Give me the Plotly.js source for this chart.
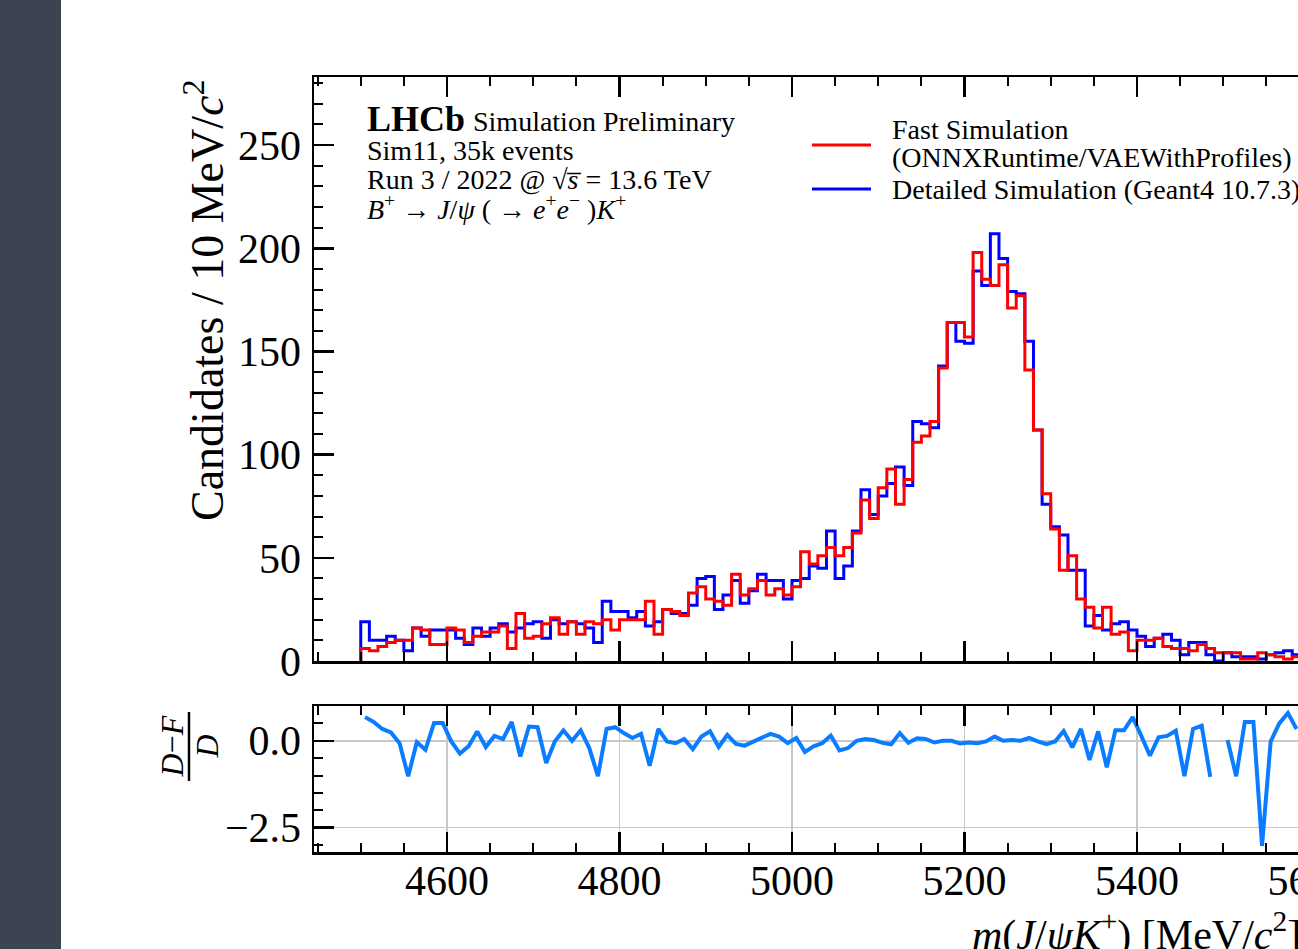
<!DOCTYPE html>
<html>
<head>
<meta charset="utf-8">
<script src="https://cdn.plot.ly/plotly-3.0.1.min.js"></script>
<style>
  html, body { margin:0; padding:0; width:1298px; height:949px; overflow:hidden; background:#ffffff; }
  #side { position:absolute; left:0; top:0; width:61px; height:949px; background:#3c4452; z-index:5; }
  #chart { position:absolute; left:0; top:0; width:1400px; height:949px; }
</style>
</head>
<body>
<div id="chart"></div>
<div id="side"></div>
<script>
// ---- data (10 MeV bins starting at 4500 MeV) ----
const binStart = 4500;
const binWidth = 10;
// Detailed Simulation (Geant4 10.7.3) counts per bin
const detailed = [19,10,10,12,10,5,16,12,15,15,15,11,8,16,12,16,18,14,16,18,
  19,11,20,18,19,18,16,9,29,24,24,21,24,17,19,25,23,23,27,40,
  41,25,32,39,28,34,42,39,39,30,39,40,46,45,63,40,46,63,83,71,
  80,86,94,85,116,115,113,143,164,155,154,189,182,207,195,179,178,155,112,76,
  65,61,44,44,17,22,15,18,19,15,12,7,11,13,10,3,9,9,3,0,
  4,2,2,2,1,3,4,5,3];
// Fast Simulation (ONNXRuntime/VAEWithProfiles) counts per bin
const fast = [6,5,7,9,10,10,16,15,8,8,16,15,9,12,14,14,17,6,23,11,
  12,18,21,13,19,13,19,18,20,15,20,20,20,29,13,25,24,22,33,36,
  30,29,27,42,32,35,39,32,35,32,36,53,47,51,55,51,55,62,78,69,
  84,93,76,88,106,109,116,142,164,164,157,198,185,182,192,171,177,141,112,81,
  64,44,51,30,26,16,26,13,14,5,10,10,11,7,6,6,5,8,6,4,
  4,4,1,1,4,3,2,1,2];
// (D-F)/D per bin (null where D = 0)
const ratio = [0.68,0.54,0.34,0.24,-0.07,-1.02,-0.04,-0.26,0.51,0.51,
  -0.02,-0.37,-0.16,0.27,-0.18,0.14,0.05,0.54,-0.45,0.41,
  0.39,-0.64,-0.02,0.30,0.0,0.30,-0.21,-1.02,0.34,0.39,
  0.22,0.08,0.20,-0.72,0.34,-0.02,-0.07,0.05,-0.24,0.12,
  0.27,-0.18,0.17,-0.09,-0.14,-0.02,0.10,0.20,0.12,-0.07,
  0.08,-0.32,-0.16,-0.07,0.15,-0.28,-0.21,0.0,0.05,0.02,
  -0.06,-0.10,0.22,-0.06,0.07,0.05,-0.05,0.0,0.0,-0.08,
  -0.05,-0.07,-0.02,0.12,0.0,0.02,0.0,0.08,-0.02,-0.10,
  -0.02,0.28,-0.19,0.34,-0.55,0.27,-0.76,0.30,0.30,0.68,
  0.14,-0.43,0.10,0.14,0.29,-1.02,0.34,0.43,-1.04,null,
  0.02,-1.02,0.54,0.54,-3.02,-0.02,0.50,0.80,0.34];

const fastName = 'Fast Simulation<br>(ONNXRuntime/VAEWithProfiles)';
const detName = 'Detailed Simulation (Geant4 10.7.3)';

// ---- build step outlines from bin edges ----
function stepXY(counts){
  const xs = [binStart], ys = [0];
  for (let i = 0; i < counts.length; i++){ xs.push(binStart + i*binWidth); ys.push(counts[i]); }
  xs.push(binStart + counts.length*binWidth); ys.push(counts[counts.length-1]);
  return {xs, ys};
}
const centers = ratio.map((_, i) => binStart + (i + 0.5)*binWidth);
const dStep = stepXY(detailed), fStep = stepXY(fast);

const W = 1400, H = 949;
const fx = p => p / W;
const fy = p => 1 - p / H;

const traces = [
  {x: dStep.xs, y: dStep.ys, type:'scatter', mode:'lines', line:{shape:'hv', color:'#0000ff', width:3}, name: detName, xaxis:'x', yaxis:'y'},
  {x: fStep.xs, y: fStep.ys, type:'scatter', mode:'lines', line:{shape:'hv', color:'#ff0000', width:3}, name: fastName, xaxis:'x', yaxis:'y'},
  {x: centers, y: ratio, type:'scatter', mode:'lines', connectgaps:false, line:{color:'#0a7cff', width:4}, xaxis:'x2', yaxis:'y2'}
];

const xr = [4445.8, 5655.1];
const axBase = {showline:true, linewidth:2.5, linecolor:'black', mirror:'allticks', zeroline:false,
  ticks:'inside', ticklen:20, tickwidth:2.5, tickcolor:'black'};
const serif = 'Liberation Serif, Times New Roman, serif';

const layout = {
  width: W, height: H, margin:{l:0, r:0, t:0, b:0},
  paper_bgcolor:'#ffffff', plot_bgcolor:'#ffffff', showlegend:false,
  font:{family: serif, color:'#000000', size:28},
  xaxis: Object.assign({}, axBase, {domain:[fx(314), fx(1357)], range:xr, anchor:'y',
    showticklabels:false, tick0:4600, dtick:200, showgrid:false,
    minor:{ticks:'inside', ticklen:9, tickwidth:2, tickcolor:'black', tick0:4600, dtick:50, showgrid:false}}),
  yaxis: Object.assign({}, axBase, {domain:[fy(661), fy(77)], range:[0, 283], anchor:'x',
    tick0:0, dtick:50, showgrid:false, tickfont:{size:42, family:serif}, ticklabelstandoff:2,
    minor:{ticks:'inside', ticklen:9, tickwidth:2, tickcolor:'black', tick0:0, dtick:10, showgrid:false}}),
  xaxis2: Object.assign({}, axBase, {domain:[fx(314), fx(1357)], range:xr, anchor:'y2',
    tick0:4600, dtick:200, showgrid:true, gridcolor:'#c8c8c8', gridwidth:1.5,
    tickfont:{size:42, family:serif}, ticklabelstandoff:-10,
    minor:{ticks:'inside', ticklen:9, tickwidth:2, tickcolor:'black', tick0:4600, dtick:50, showgrid:false}}),
  yaxis2: Object.assign({}, axBase, {domain:[fy(852), fy(706)], range:[-3.2, 1.0], anchor:'x2',
    tick0:0, dtick:2.5, tickformat:'.1f', showgrid:true, gridcolor:'#c8c8c8', gridwidth:1.5,
    tickfont:{size:42, family:serif}, ticklabelstandoff:2,
    minor:{ticks:'inside', ticklen:9, tickwidth:2, tickcolor:'black', tick0:0, dtick:0.5, showgrid:false}}),
  shapes: [
    {type:'line', xref:'paper', yref:'paper', x0:fx(812), x1:fx(871), y0:fy(145), y1:fy(145), line:{color:'#ff0000', width:3}},
    {type:'line', xref:'paper', yref:'paper', x0:fx(812), x1:fx(871), y0:fy(189), y1:fy(189), line:{color:'#0000ff', width:3}},
    {type:'line', xref:'paper', yref:'paper', x0:fx(189), x1:fx(189), y0:fy(712), y1:fy(781), line:{color:'#000000', width:2.5}}
  ],
  annotations: [
    {text:'<b>LHCb</b>', x:fx(365), y:fy(118.5), xanchor:'left', yanchor:'middle', xref:'paper', yref:'paper', showarrow:false, font:{size:36, family:serif}},
    {text:'Simulation Preliminary', x:fx(471), y:fy(121), xanchor:'left', yanchor:'middle', xref:'paper', yref:'paper', showarrow:false, font:{size:28, family:serif}},
    {text:'Sim11, 35k events', x:fx(365), y:fy(150), xanchor:'left', yanchor:'middle', xref:'paper', yref:'paper', showarrow:false, font:{size:28, family:serif}},
    {text:'Run 3 / 2022 @ \u221A<i>s\u0305</i> = 13.6 TeV', x:fx(365), y:fy(179), xanchor:'left', yanchor:'middle', xref:'paper', yref:'paper', showarrow:false, font:{size:28, family:serif}},
    {text:'<i>B</i><sup>+</sup> \u2192 <i>J</i>/<i>\u03C8</i> ( \u2192 <i>e</i><sup>+</sup><i>e</i><sup>\u2212</sup> )<i>K</i><sup>+</sup>', x:fx(365), y:fy(207), xanchor:'left', yanchor:'middle', xref:'paper', yref:'paper', showarrow:false, font:{size:28, family:serif}},
    {text:'Fast Simulation', x:fx(890), y:fy(129), xanchor:'left', yanchor:'middle', xref:'paper', yref:'paper', showarrow:false, font:{size:28, family:serif}},
    {text:'(ONNXRuntime/VAEWithProfiles)', x:fx(890), y:fy(158), xanchor:'left', yanchor:'middle', xref:'paper', yref:'paper', showarrow:false, font:{size:28, family:serif}},
    {text:detName, x:fx(890), y:fy(189), xanchor:'left', yanchor:'middle', xref:'paper', yref:'paper', showarrow:false, font:{size:28, family:serif}},
    {text:'Candidates / 10 MeV/<i>c</i><sup>2</sup>', textangle:-90, x:fx(204), y:fy(77), xanchor:'center', yanchor:'top', xref:'paper', yref:'paper', showarrow:false, font:{size:46, family:serif}},
    {text:'<i>D</i>\u2212<i>F</i>', textangle:-90, x:fx(171.5), y:fy(747), xanchor:'center', yanchor:'middle', xref:'paper', yref:'paper', showarrow:false, font:{size:32, family:serif}},
    {text:'<i>D</i>', textangle:-90, x:fx(206.5), y:fy(747), xanchor:'center', yanchor:'middle', xref:'paper', yref:'paper', showarrow:false, font:{size:32, family:serif}},
    {text:'<i>m</i>(<i>J</i>/<i>\u03C8K</i><sup>+</sup>) [MeV/<i>c</i><sup>2</sup>]', x:fx(970), y:fy(932), xanchor:'left', yanchor:'middle', xref:'paper', yref:'paper', showarrow:false, font:{size:42, family:serif}}
  ]
};

Plotly.newPlot('chart', traces, layout, {staticPlot:true, displayModeBar:false});
</script>
</body>
</html>
